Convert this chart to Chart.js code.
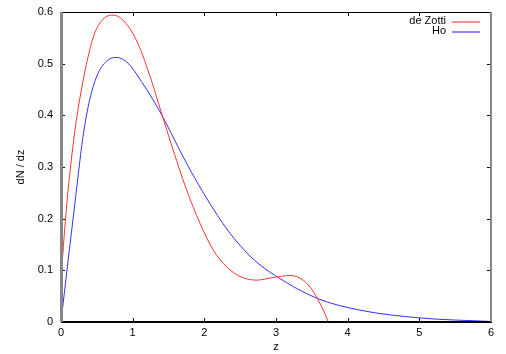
<!DOCTYPE html>
<html>
<head>
<meta charset="utf-8">
<script src="https://cdn.jsdelivr.net/npm/chart.js@4/dist/chart.umd.min.js"></script>
<style>
  html, body { margin: 0; padding: 0; background: #fff; }
  #wrap { width: 506px; height: 354px; }
</style>
</head>
<body>
<div id="wrap"><canvas id="dndz"></canvas></div>
<script>
// de Zotti curve
const zZotti  = [0, 0.02, 0.074, 0.144, 0.214, 0.284, 0.377, 0.47, 0.586, 0.726, 0.888, 1.074, 1.26, 1.381, 1.493, 1.567, 1.754, 1.94, 2.125, 2.31, 2.5, 2.73, 2.96, 3.195, 3.38, 3.52, 3.66, 3.73];
const dnZotti = [0.075, 0.12, 0.217, 0.314, 0.391, 0.449, 0.513, 0.559, 0.586, 0.594, 0.581, 0.539, 0.468, 0.414, 0.364, 0.332, 0.255, 0.191, 0.139, 0.107, 0.088, 0.081, 0.086, 0.090, 0.081, 0.059, 0.023, 0];

// Ho curve
const zHo  = [0, 0.1, 0.19, 0.237, 0.307, 0.40, 0.516, 0.656, 0.772, 0.935, 1.12, 1.307, 1.447, 1.64, 1.82, 2.03, 2.335, 2.68, 3.01, 3.57, 4.17, 5.0, 6.0];
const dnHo = [0, 0.12, 0.225, 0.281, 0.359, 0.430, 0.481, 0.507, 0.512, 0.501, 0.466, 0.425, 0.390, 0.337, 0.290, 0.240, 0.176, 0.122, 0.088, 0.046, 0.023, 0.008, 0.001];

const seriesNames = ["de Zotti", "Ho"];
const seriesColors = ["#ff3030", "#3030ff"];
const legendColors = ["rgba(255,0,0,0.45)", "rgba(0,0,255,0.45)"];

const toPts = (xs, ys) => xs.map((x, i) => ({ x: x, y: ys[i] }));

const FONT = "'Liberation Sans', Arial, sans-serif";

// frame + inward ticks + legend, gnuplot style
const framePlugin = {
  id: "frame",
  afterDatasetsDraw(chart) {
    const ctx = chart.ctx;
    const a = chart.chartArea;
    const xs = chart.scales.x, ys = chart.scales.y;
    ctx.save();

    // ticks first, frame drawn over them
    ctx.strokeStyle = "#000";
    ctx.lineWidth = 1;
    ctx.beginPath();
    xs.ticks.forEach(t => {
      const px = Math.round(xs.getPixelForValue(t.value)) + 0.5;
      if (px < a.left + 2 || px > a.right - 2) return;
      ctx.moveTo(px, a.bottom); ctx.lineTo(px, a.bottom - 4);
      ctx.moveTo(px, a.top); ctx.lineTo(px, a.top + 4);
    });
    ys.ticks.forEach(t => {
      const py = Math.round(ys.getPixelForValue(t.value)) + 0.5;
      if (py < a.top + 2 || py > a.bottom - 2) return;
      ctx.moveTo(a.left, py); ctx.lineTo(a.left + 4, py);
      ctx.moveTo(a.right, py); ctx.lineTo(a.right - 4, py);
    });
    ctx.stroke();

    // border
    ctx.fillStyle = "#000";
    ctx.fillRect(a.left, a.top, a.right - a.left, 1);
    ctx.fillRect(a.left, a.bottom - 1, a.right - a.left + 1, 2);
    ctx.fillStyle = "#888";
    ctx.fillRect(a.left - 1, a.top, 3, a.bottom - a.top);
    ctx.fillRect(a.right - 1, a.top, 2, a.bottom - a.top);

    // legend
    ctx.font = "11px " + FONT;
    ctx.textAlign = "right";
    ctx.textBaseline = "middle";
    seriesNames.forEach((name, i) => {
      const y = a.top + 9 + i * 10;
      ctx.fillStyle = "#000";
      ctx.fillText(name, a.right - 45, y);
      ctx.fillStyle = legendColors[i];
      ctx.fillRect(a.right - 39, y, 28, 2);
    });
    ctx.restore();
  }
};

new Chart(document.getElementById("dndz"), {
  type: "scatter",
  data: {
    datasets: [
      { label: seriesNames[0], data: toPts(zZotti, dnZotti), borderColor: seriesColors[0] },
      { label: seriesNames[1], data: toPts(zHo, dnHo), borderColor: seriesColors[1] }
    ]
  },
  options: {
    responsive: true,
    maintainAspectRatio: false,
    animation: false,
    showLine: true,
    layout: { padding: { top: 12, right: 15, left: 0, bottom: 0 } },
    elements: {
      point: { radius: 0 },
      line: { borderWidth: 1, cubicInterpolationMode: "monotone", fill: false }
    },
    plugins: { legend: { display: false }, tooltip: { enabled: false } },
    scales: {
      x: {
        type: "linear", min: 0, max: 6,
        grid: { display: false, drawTicks: false }, border: { display: false },
        ticks: { stepSize: 1, color: "#000", padding: 4, font: { family: FONT, size: 11 } },
        title: { display: true, text: "z", color: "#000", padding: { top: 0, bottom: 0 }, font: { family: FONT, size: 11 } },
        afterFit(s) { s.height = 32; s.paddingLeft = 0; s.paddingRight = 0; }
      },
      y: {
        min: 0, max: 0.6,
        grid: { display: false, drawTicks: false }, border: { display: false },
        ticks: { stepSize: 0.1, color: "#000", padding: 8, font: { family: FONT, size: 11 } },
        title: { display: true, text: "dN / dz", color: "#000", padding: { top: 14, bottom: 0 }, font: { family: FONT, size: 11 } },
        afterFit(s) { s.width = 61; s.paddingTop = 0; s.paddingBottom = 0; }
      }
    }
  },
  plugins: [framePlugin]
});
</script>
</body>
</html>
